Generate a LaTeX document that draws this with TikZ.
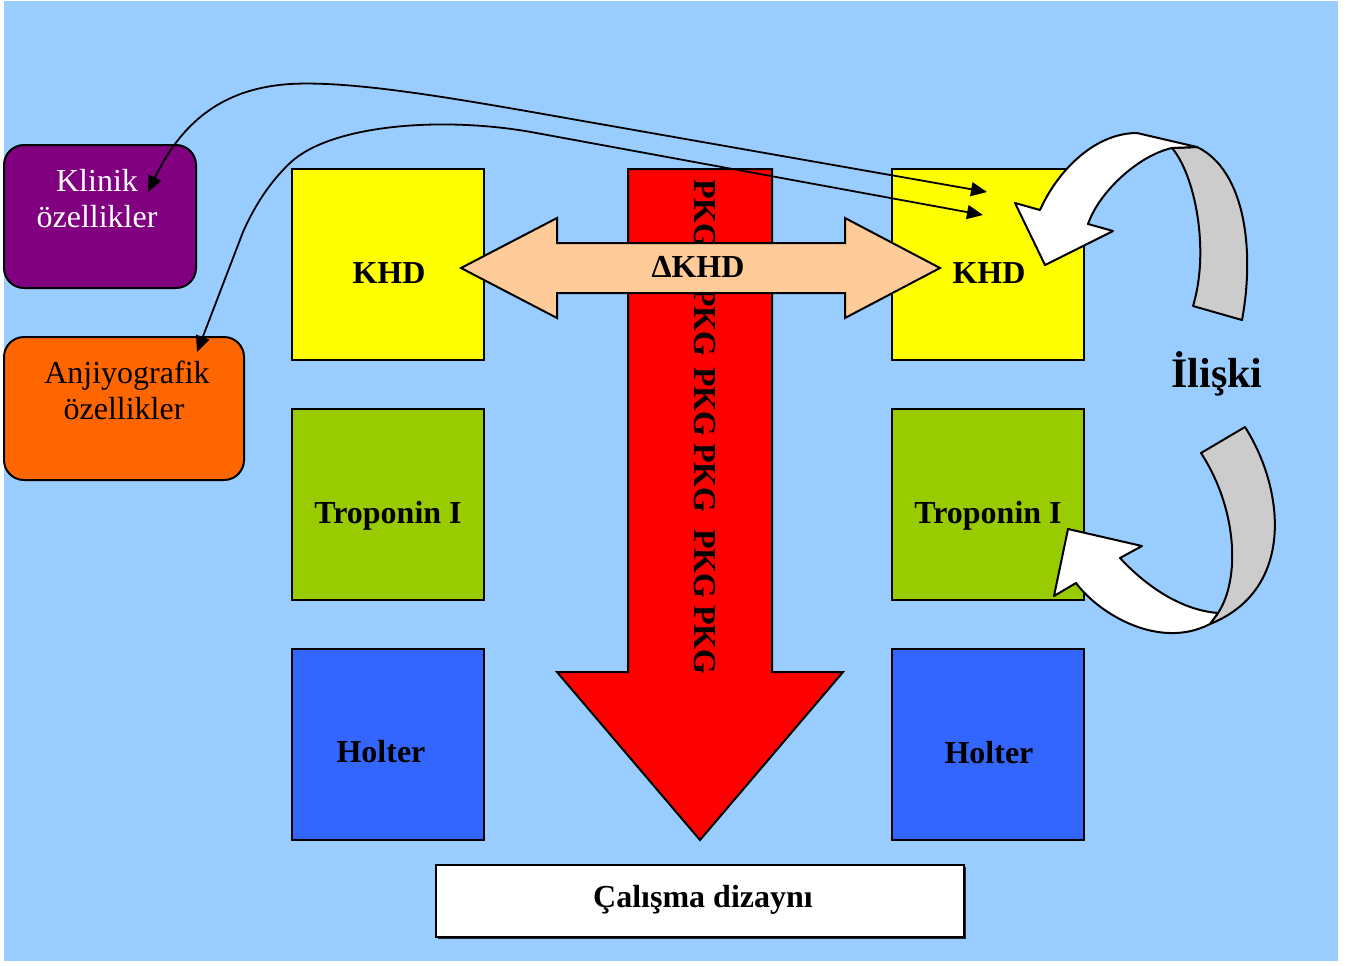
\documentclass[tikz,border=0pt]{standalone}
\usepackage{fontspec}
\setmainfont{Liberation Serif}
\usetikzlibrary{arrows.meta}
\definecolor{bg}{HTML}{99CCFF}
\definecolor{ylw}{HTML}{FFFF00}
\definecolor{grn}{HTML}{99CC00}
\definecolor{blu}{HTML}{3366FF}
\definecolor{prp}{HTML}{800080}
\definecolor{org}{HTML}{FF6600}
\definecolor{peach}{HTML}{FFCC99}
\definecolor{rib}{HTML}{CCCCCC}
\begin{document}
\begin{tikzpicture}[x=0.5pt,y=-0.5pt,
  outl/.style={draw=black,line width=1pt},
  lbl/.style={font=\fontsize{16}{18}\selectfont\bfseries,anchor=base,inner sep=0pt},
  side/.style={font=\fontsize{16}{18}\selectfont,anchor=base,inner sep=0pt},
  conn/.style={draw=black,line width=0.9pt,{Triangle[length=8pt,width=7pt]}-{Triangle[length=8pt,width=7pt]}},
  pkg/.style={font=\fontsize{16}{18}\selectfont\bfseries,rotate=-90,inner sep=0pt},
  ribw/.style={fill=white,draw=black,line width=1pt,line join=round},
  ribg/.style={fill=rib,draw=black,line width=1pt,line join=round}]
\useasboundingbox (0,0) rectangle (1350,965);
\fill[white] (0,0) rectangle (1350,965);
\fill[bg] (4,1) rectangle (1338,961);

% boxes
\draw[outl,fill=ylw] (292,169) rectangle (484,360);
\draw[outl,fill=grn] (292,409) rectangle (484,600);
\draw[outl,fill=blu] (292,649) rectangle (484,840);
\draw[outl,fill=ylw] (892,169) rectangle (1084,360);
\draw[outl,fill=grn] (892,409) rectangle (1084,600);
\draw[outl,fill=blu] (892,649) rectangle (1084,840);
\draw[outl,fill=prp,rounded corners=10pt] (4,145) rectangle (196,288);
\draw[outl,fill=org,rounded corners=10pt] (4,337) rectangle (244,480);

% red down arrow
\draw[outl,fill=red,line join=miter] (628,169) -- (772,169) -- (772,672) -- (843,672) -- (700,840) -- (557,672) -- (628,672) -- cycle;
\node[pkg] (p1) at (705,214) {PKG};
\node[pkg] (p2) at (705,322) {PKG};
\node[pkg] (p3) at (705,402) {PKG};
\node[pkg] (p4) at (705,478) {PKG};
\node[pkg] (p5) at (705,564) {PKG};
\node[pkg] (p6) at (705,640) {PKG};

% delta KHD double arrow
\draw[outl,fill=peach,line join=miter] (461,268) -- (557,218) -- (557,243) -- (845,243) -- (845,218) -- (940,268) -- (845,318) -- (845,293) -- (557,293) -- (557,318) -- cycle;
\node[lbl] (dkhd) at (698,277) {ΔKHD};

% box labels
\node[lbl] (khdL) at (389,283) {KHD};
\node[lbl] (khdR) at (989,283) {KHD};
\node[lbl] (tropL) at (388,523) {Troponin I};
\node[lbl] (tropR) at (988,523) {Troponin I};
\node[lbl] (holL) at (381,762) {Holter};
\node[lbl] (holR) at (989,763) {Holter};
\node[side,text=white] (kl1) at (97,191) {Klinik};
\node[side,text=white] (kl2) at (97,227) {özellikler};
\node[side] (an1) at (127,383) {Anjiyografik};
\node[side] (an2) at (124,419) {özellikler};

% ribbons
\draw[ribg] (1172,148) .. controls (1195,175) and (1210,250) .. (1193,306) -- (1242,320) .. controls (1255,250) and (1245,170) .. (1197,147) -- cycle;
\draw[ribw] (1015,203) -- (1040,210) .. controls (1058,170) and (1095,133) .. (1137,133) -- (1197,147) -- (1172,148) .. controls (1140,155) and (1100,190) .. (1088,224) -- (1113,231) -- (1045,265) -- cycle;
\draw[ribg] (1201,453) -- (1245,427) .. controls (1285,490) and (1295,590) .. (1210,624) -- (1218,613) .. controls (1240,580) and (1238,510) .. (1201,453) -- cycle;
\draw[ribw] (1218,613) .. controls (1180,610) and (1145,585) .. (1120,558) -- (1142,546) -- (1068,529) -- (1054,596) -- (1076,583) .. controls (1100,615) and (1160,650) .. (1210,624) -- cycle;
\node[lbl,font=\fontsize{21}{24}\selectfont\bfseries] (iliski) at (1217,387) {İlişki};

% connectors
\coordinate (c1a) at (987,192);
\coordinate (c1b) at (148,192);
\coordinate (c2a) at (983,215);
\coordinate (c2b) at (197,352);
\draw[conn] (c1a) -- (600,124) .. controls (480,103) and (360,80) .. (290,84) .. controls (230,88) and (185,115) .. (c1b);
\draw[conn] (c2a) -- (531,132) .. controls (440,116) and (330,125) .. (290,163) .. controls (270,182) and (255,205) .. (243,232) -- (c2b);

% design box
\fill[black!85] (438,867) rectangle (966,939);
\draw[outl,fill=white] (436,865) rectangle (964,937);
\node[lbl] (calisma) at (703,907) {Çalışma dizaynı};
\end{tikzpicture}
\end{document}
